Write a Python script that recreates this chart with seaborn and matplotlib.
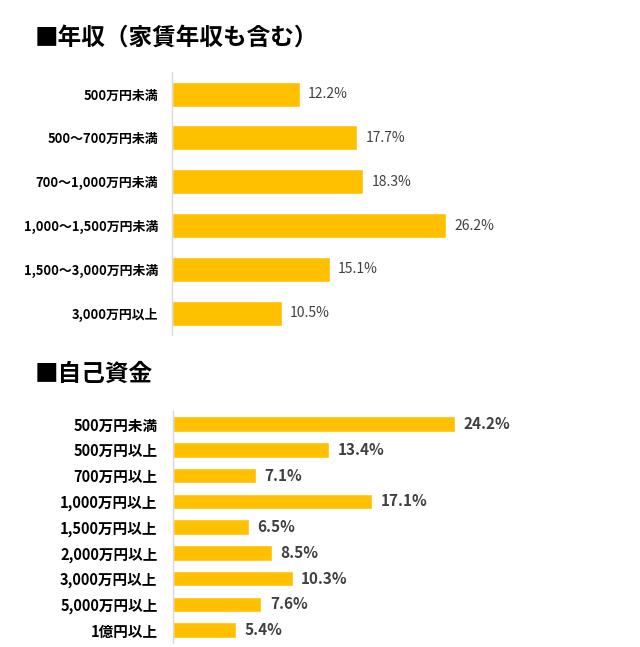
import matplotlib
matplotlib.use('Agg')
import matplotlib.pyplot as plt
import seaborn as sns

sns.set_style('white')
plt.rcParams['font.family'] = ['Noto Sans CJK JP', 'DejaVu Sans']

income_labels = ['500万円未満', '500～700万円未満', '700～1,000万円未満',
                 '1,000～1,500万円未満', '1,500～3,000万円未満', '3,000万円以上']
income_values = [12.2, 17.7, 18.3, 26.2, 15.1, 10.5]

fund_labels = ['500万円未満', '500万円以上', '700万円以上', '1,000万円以上', '1,500万円以上',
               '2,000万円以上', '3,000万円以上', '5,000万円以上', '1億円以上']
fund_values = [24.2, 13.4, 7.1, 17.1, 6.5, 8.5, 10.3, 7.6, 5.4]

bar_color = '#FFC000'
text_color = '#404040'

fig = plt.figure(figsize=(6.4, 6.47), dpi=100)


def draw(ax, labels, values, xmax, width, tick_fs, val_fs, val_weight, pad):
    sns.barplot(x=values, y=labels, color=bar_color, saturation=1, width=width,
                orient='h', ax=ax)
    ax.set_xlim(0, xmax)
    ax.set_ylim(len(labels) - 0.5, -0.5)
    ax.set_xlabel('')
    ax.set_ylabel('')
    ax.set_xticks([])
    for s in ['top', 'right', 'bottom']:
        ax.spines[s].set_visible(False)
    ax.spines['left'].set_color('#d9d9d9')
    ax.spines['left'].set_linewidth(1.0)
    ax.tick_params(axis='y', length=0, pad=pad, labelsize=tick_fs)
    for t in ax.get_yticklabels():
        t.set_fontweight('bold')
        t.set_color('black')
    ax.bar_label(ax.containers[0], fmt='%.1f%%', padding=6, fontsize=val_fs,
                 color=text_color, fontweight=val_weight)


ax1 = fig.add_axes([0.269, 0.482, 0.625, 0.4065])
draw(ax1, income_labels, income_values, 38.3, 0.57, 9.3, 10, 'normal', 10)

ax2 = fig.add_axes([0.270, 0.006, 0.625, 0.3586])
draw(ax2, fund_labels, fund_values, 34.3, 0.6, 10.5, 11, 'bold', 11)

fig.text(35 / 640, 1 - 38 / 647, '■年収（家賃年収も含む）', fontsize=17, fontweight='bold',
         va='center', ha='left', color='black')
fig.text(35 / 640, 1 - 374 / 647, '■自己資金', fontsize=17, fontweight='bold',
         va='center', ha='left', color='black')

fig.savefig('out.png', dpi=100, facecolor='white')
